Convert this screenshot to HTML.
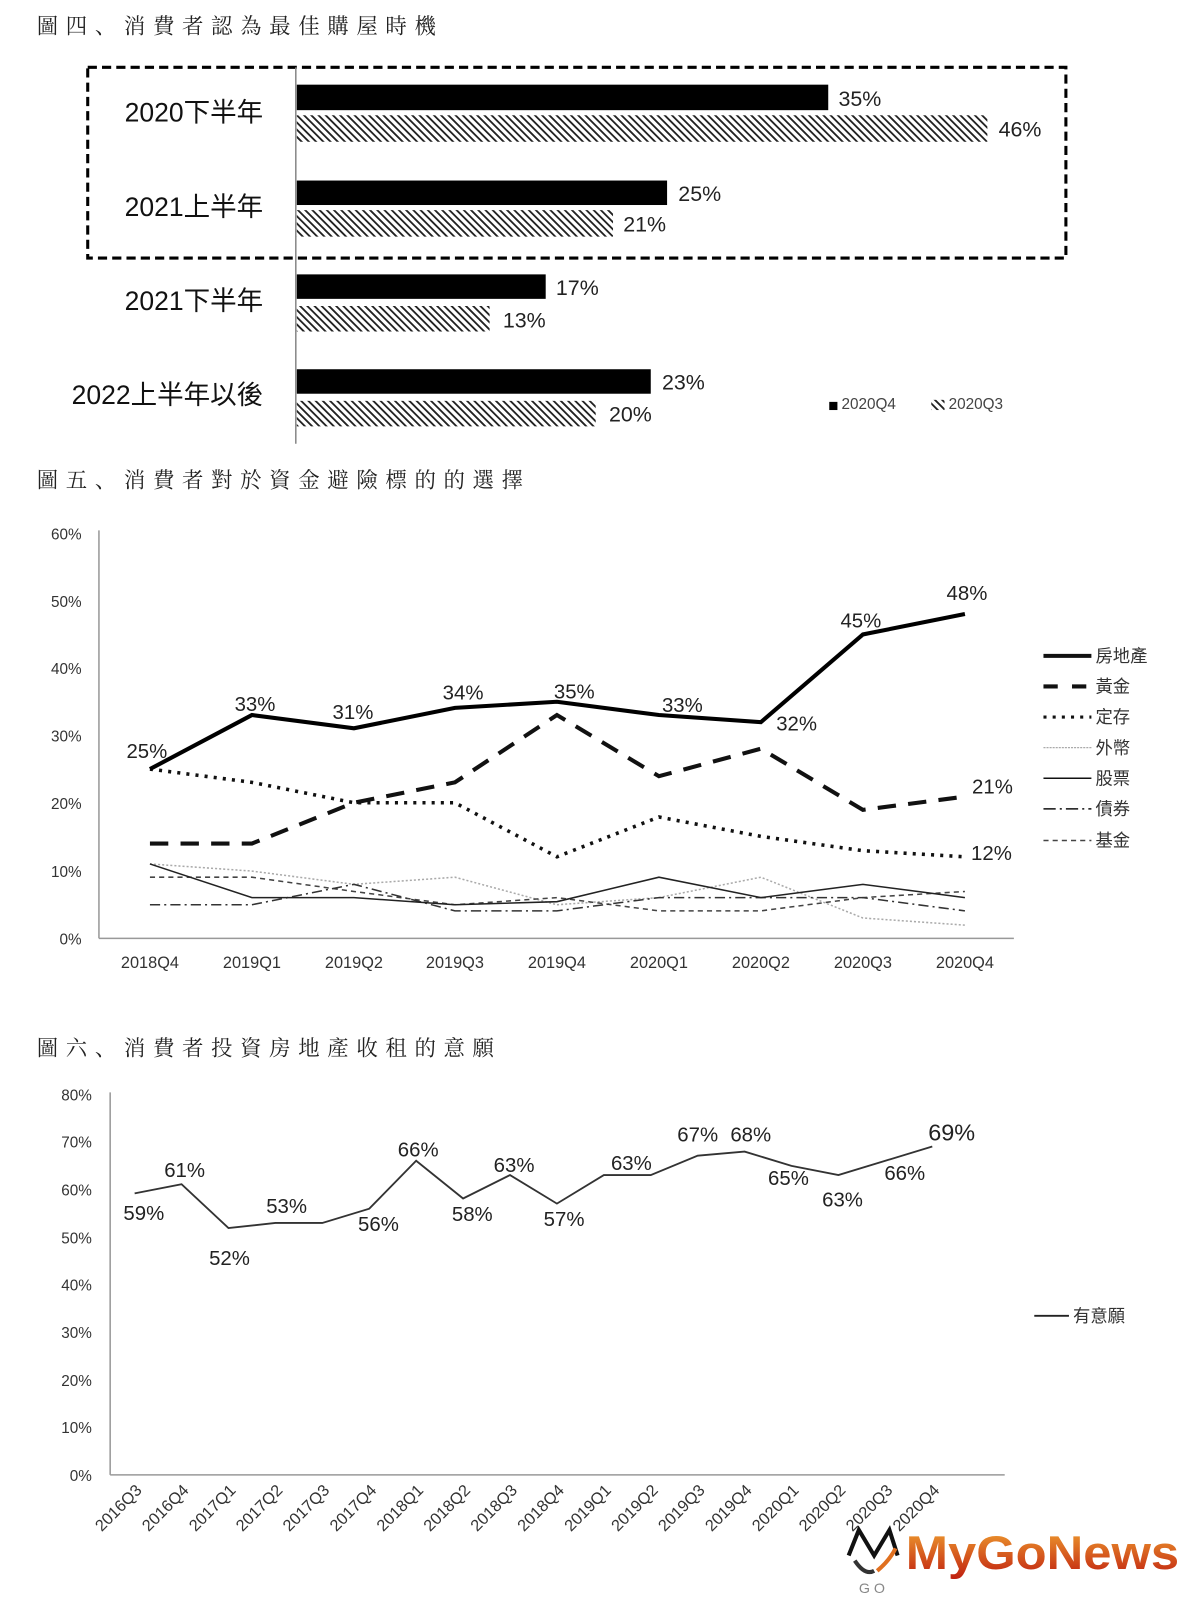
<!DOCTYPE html>
<html><head><meta charset="utf-8"><style>
html,body{margin:0;padding:0;background:#fff;}
svg{display:block;}
text{font-family:"Liberation Sans","Noto Sans CJK TC",sans-serif;}
.t{font-family:"Noto Serif CJK SC","Liberation Serif",serif;font-size:21px;letter-spacing:7.5px;fill:#222;}
</style></head><body>
<svg width="1200" height="1600" viewBox="0 0 1200 1600" xmlns="http://www.w3.org/2000/svg">
<defs>
<pattern id="h" width="5" height="5" patternUnits="userSpaceOnUse" patternTransform="rotate(-45)">
<rect width="5" height="5" fill="#fff"/><rect x="0" y="0" width="1.8" height="5" fill="#222"/>
</pattern>
<linearGradient id="g" x1="0" y1="0" x2="0" y2="1"><stop offset="0" stop-color="#f0a030"/><stop offset="1" stop-color="#c02010"/></linearGradient>
</defs>
<g transform="scale(1.02)">
<!-- Chart 1 -->
<text class="t" x="36" y="33">圖四、消費者認為最佳購屋時機</text>
<rect x="86" y="66" width="959" height="187" fill="none" stroke="#000" stroke-width="3" stroke-dasharray="9,5"/>
<line x1="290" y1="66" x2="290" y2="435" stroke="#888" stroke-width="1.5"/>
<g font-size="26" fill="#111" text-anchor="end">
<text x="258" y="119">2020下半年</text>
<text x="258" y="212">2021上半年</text>
<text x="258" y="304">2021下半年</text>
<text x="258" y="396">2022上半年以後</text>
</g>
<rect x="291" y="83" width="521" height="25" fill="#000"/>
<rect x="291" y="113" width="677" height="26" fill="url(#h)"/>
<rect x="291" y="177" width="363" height="24" fill="#000"/>
<rect x="291" y="206" width="310" height="26" fill="url(#h)"/>
<rect x="291" y="269" width="244" height="24" fill="#000"/>
<rect x="291" y="300" width="189" height="25" fill="url(#h)"/>
<rect x="291" y="362" width="347" height="24" fill="#000"/>
<rect x="291" y="393" width="293" height="25" fill="url(#h)"/>
<g font-size="21" fill="#222">
<text x="822" y="104">35%</text><text x="979" y="134">46%</text>
<text x="665" y="197">25%</text><text x="611" y="227">21%</text>
<text x="545" y="289">17%</text><text x="493" y="321">13%</text>
<text x="649" y="382">23%</text><text x="597" y="413">20%</text>
</g>
<rect x="813" y="394" width="8" height="8" fill="#000"/>
<text x="825" y="401" font-size="15" fill="#444">2020Q4</text>
<rect x="913" y="392" width="13" height="10" fill="url(#h)"/>
<text x="930" y="401" font-size="15" fill="#444">2020Q3</text>

<!-- Chart 2 -->
<text class="t" x="36" y="478">圖五、消費者對於資金避險標的的選擇</text>
<line x1="97" y1="520" x2="97" y2="920" stroke="#999" stroke-width="1.5"/>
<line x1="97" y1="920" x2="994" y2="920" stroke="#999" stroke-width="1.5"/>
<g font-size="15" fill="#333" text-anchor="end">
<text x="80" y="529">60%</text><text x="80" y="595">50%</text><text x="80" y="661">40%</text><text x="80" y="727">30%</text><text x="80" y="793">20%</text><text x="80" y="860">10%</text><text x="80" y="926">0%</text>
</g>
<g font-size="16" fill="#333" text-anchor="middle">
<text x="147" y="949">2018Q4</text><text x="247" y="949">2019Q1</text><text x="347" y="949">2019Q2</text><text x="446" y="949">2019Q3</text><text x="546" y="949">2019Q4</text><text x="646" y="949">2020Q1</text><text x="746" y="949">2020Q2</text><text x="846" y="949">2020Q3</text><text x="946" y="949">2020Q4</text>
</g>
<g fill="none">
<polyline points="147,847 247,854 347,867 446,860 546,887 646,880 746,860 846,900 946,907" stroke="#aaa" stroke-width="1.5" stroke-dasharray="2,2"/>
<polyline points="147,860 247,860 347,874 446,887 546,880 646,893 746,893 846,880 946,874" stroke="#444" stroke-width="1.5" stroke-dasharray="5,4"/>
<polyline points="147,887 247,887 347,867 446,893 546,893 646,880 746,880 846,880 946,893" stroke="#333" stroke-width="1.5" stroke-dasharray="10,4,2,4"/>
<polyline points="147,847 247,880 347,880 446,887 546,884 646,860 746,880 846,867 946,880" stroke="#222" stroke-width="1.5"/>
<polyline points="147,754 247,767 347,787 446,787 546,840 646,801 746,820 846,834 946,840" stroke="#111" stroke-width="3.5" stroke-dasharray="3,6"/>
<polyline points="147,827 247,827 347,787 446,767 546,701 646,761 746,734 846,794 946,781" stroke="#111" stroke-width="4" stroke-dasharray="18,12"/>
<polyline points="147,754 247,701 347,714 446,694 546,688 646,701 746,708 846,622 946,602" stroke="#000" stroke-width="4"/>
</g>
<g font-size="20" fill="#222">
<text x="124" y="743">25%</text><text x="230" y="697">33%</text><text x="326" y="705">31%</text><text x="434" y="686">34%</text><text x="543" y="685">35%</text><text x="649" y="698">33%</text><text x="761" y="716">32%</text><text x="824" y="615">45%</text><text x="928" y="588">48%</text><text x="953" y="778">21%</text><text x="952" y="843">12%</text>
</g>
<g stroke="#111" fill="none">
<line x1="1023" y1="643" x2="1070" y2="643" stroke-width="4"/>
<line x1="1023" y1="673" x2="1070" y2="673" stroke-width="4" stroke-dasharray="14,14"/>
<line x1="1023" y1="703" x2="1070" y2="703" stroke-width="3" stroke-dasharray="3,6"/>
<line x1="1023" y1="733" x2="1070" y2="733" stroke="#aaa" stroke-width="1.2" stroke-dasharray="2,1"/>
<line x1="1023" y1="763" x2="1070" y2="763" stroke-width="1.5"/>
<line x1="1023" y1="793" x2="1070" y2="793" stroke-width="1.5" stroke-dasharray="12,4,2,4"/>
<line x1="1023" y1="824" x2="1070" y2="824" stroke="#444" stroke-width="1.5" stroke-dasharray="5,4"/>
</g>
<g font-size="17" fill="#333">
<text x="1074" y="649">房地產</text><text x="1074" y="679">黃金</text><text x="1074" y="709">定存</text><text x="1074" y="739">外幣</text><text x="1074" y="769">股票</text><text x="1074" y="799">債券</text><text x="1074" y="830">基金</text>
</g>

<!-- Chart 3 -->
<text class="t" x="36" y="1035">圖六、消費者投資房地產收租的意願</text>
<line x1="108" y1="1071" x2="108" y2="1446" stroke="#999" stroke-width="1.5"/>
<line x1="108" y1="1446" x2="985" y2="1446" stroke="#999" stroke-width="1.5"/>
<g font-size="15" fill="#333" text-anchor="end">
<text x="90" y="1079">80%</text><text x="90" y="1125">70%</text><text x="90" y="1172">60%</text><text x="90" y="1219">50%</text><text x="90" y="1265">40%</text><text x="90" y="1312">30%</text><text x="90" y="1359">20%</text><text x="90" y="1405">10%</text><text x="90" y="1452">0%</text>
</g>
<polyline fill="none" stroke="#333" stroke-width="1.8" points="132,1170 178,1161 224,1204 270,1199 316,1199 362,1185 408,1138 454,1175 500,1152 546,1180 592,1152 638,1152 684,1133 730,1129 776,1143 822,1152 868,1138 914,1124"/>
<g font-size="20" fill="#222">
<text x="121" y="1196">59%</text><text x="161" y="1154">61%</text><text x="205" y="1240">52%</text><text x="261" y="1189">53%</text><text x="351" y="1207">56%</text><text x="390" y="1134">66%</text><text x="443" y="1197">58%</text><text x="484" y="1149">63%</text><text x="533" y="1202">57%</text><text x="599" y="1147">63%</text><text x="664" y="1119">67%</text><text x="716" y="1119">68%</text><text x="753" y="1162">65%</text><text x="806" y="1183">63%</text><text x="867" y="1157">66%</text>
<text x="910" y="1118" font-size="23">69%</text>
</g>
<g font-size="16" fill="#333" text-anchor="end">
<text transform="translate(140,1462) rotate(-45)">2016Q3</text>
<text transform="translate(186,1462) rotate(-45)">2016Q4</text>
<text transform="translate(232,1462) rotate(-45)">2017Q1</text>
<text transform="translate(278,1462) rotate(-45)">2017Q2</text>
<text transform="translate(324,1462) rotate(-45)">2017Q3</text>
<text transform="translate(370,1462) rotate(-45)">2017Q4</text>
<text transform="translate(416,1462) rotate(-45)">2018Q1</text>
<text transform="translate(462,1462) rotate(-45)">2018Q2</text>
<text transform="translate(508,1462) rotate(-45)">2018Q3</text>
<text transform="translate(554,1462) rotate(-45)">2018Q4</text>
<text transform="translate(600,1462) rotate(-45)">2019Q1</text>
<text transform="translate(646,1462) rotate(-45)">2019Q2</text>
<text transform="translate(692,1462) rotate(-45)">2019Q3</text>
<text transform="translate(738,1462) rotate(-45)">2019Q4</text>
<text transform="translate(784,1462) rotate(-45)">2020Q1</text>
<text transform="translate(830,1462) rotate(-45)">2020Q2</text>
<text transform="translate(876,1462) rotate(-45)">2020Q3</text>
<text transform="translate(922,1462) rotate(-45)">2020Q4</text>
</g>
<line x1="1014" y1="1290" x2="1048" y2="1290" stroke="#222" stroke-width="1.8"/>
<text x="1052" y="1296" font-size="17" fill="#333">有意願</text>

<!-- watermark -->
<g stroke="#111" stroke-width="4" fill="none">
<path d="M832,1525 L842,1500 L857,1525 L872,1500 L880,1525"/>
<path d="M838,1530 Q848,1545 857,1540" stroke="#333"/>
<path d="M860,1540 Q872,1530 878,1518" stroke="#e07020"/>
</g>
<text x="842" y="1562" font-size="14" fill="#888">G O</text>
<text x="888" y="1538" font-size="46" font-weight="bold" fill="url(#g)" textLength="268" lengthAdjust="spacingAndGlyphs">MyGoNews</text>
</g>
</svg>
</body></html>
